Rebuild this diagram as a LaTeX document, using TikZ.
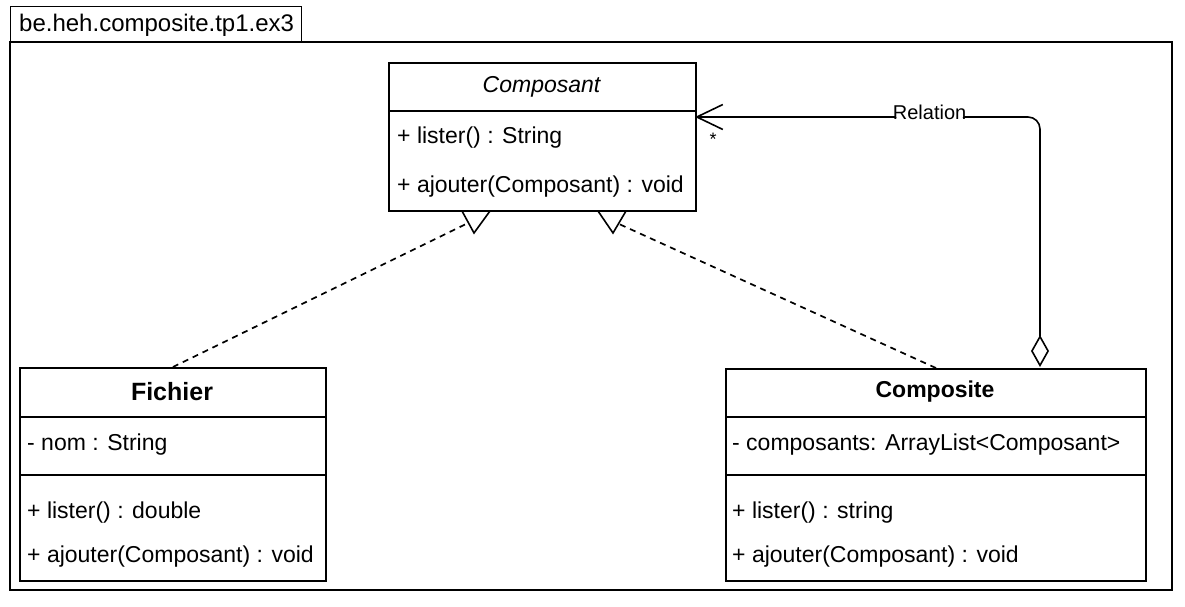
\documentclass[tikz,border=0pt]{standalone}
\usepackage{fontspec}
\setmainfont{Liberation Sans}
\usetikzlibrary{arrows.meta}
\begin{document}
\begin{tikzpicture}[x=1pt,y=-1pt,
  classbox/.style={draw, line width=1.8pt, anchor=north west, inner sep=0pt},
  sepline/.style={line width=1.6pt},
  member/.style={anchor=west, inner sep=0pt, font=\fontsize{23}{26}\selectfont},
  classname/.style={inner sep=0pt, font=\fontsize{23}{26}\selectfont\bfseries},
  realize/.style={line width=1.7pt, dash pattern=on 6pt off 5pt},
  hollowtri/.style={line width=1.6pt, line join=miter},
  assoc/.style={line width=1.6pt, rounded corners=12pt,
    {Diamond[open,length=32pt,width=18pt,line width=1.6pt]}-{Straight Barb[length=26pt,width=25pt,line width=1.6pt]}},
  frameline/.style={line width=1.3pt}
]
\useasboundingbox (0,0) rectangle (1185,607);

% package frame with its name tab
\draw[frameline] (10,42) rectangle (1172,590);
\node[draw, frameline, anchor=north west, minimum width=291pt, minimum height=36pt, inner sep=0pt] (pkg) at (10,6) {};
\node[anchor=west, inner sep=0pt, font=\fontsize{24}{27}\selectfont] (pkgname) at (19,25) {be.heh.composite.tp1.ex3};

% interface Composant
\node[classbox, minimum width=307pt, minimum height=148pt] (composant) at (388,62) {};
\draw[sepline] (388,111) -- (695,111);
\node[inner sep=0pt, font=\fontsize{23}{26}\selectfont\itshape] (composantname) at (541.5,87) {Composant};
\node[member] (composantm1) at (397,138) {+ lister() : String};
\node[member] (composantm2) at (397,187) {+ ajouter(Composant) : void};

% class Fichier
\node[classbox, minimum width=306pt, minimum height=213pt] (fichier) at (19,367) {};
\draw[sepline] (19,417) -- (325,417);
\draw[sepline] (19,475) -- (325,475);
\node[inner sep=0pt, font=\fontsize{25}{28}\selectfont\bfseries] (fichiername) at (172,392) {Fichier};
\node[member] (fichiera1) at (27,445) {- nom : String};
\node[member] (fichierm1) at (27,513) {+ lister() : double};
\node[member] (fichierm2) at (27,557) {+ ajouter(Composant) : void};

% class Composite
\node[classbox, minimum width=420pt, minimum height=212pt] (composite) at (725,368) {};
\draw[sepline] (725,417) -- (1145,417);
\draw[sepline] (725,475) -- (1145,475);
\node[classname] (compositename) at (935,392) {Composite};
\node[member] (compositea1) at (732,445) {- composants: ArrayList<Composant>};
\node[member] (compositem1) at (732,513) {+ lister() : string};
\node[member] (compositem2) at (732,557) {+ ajouter(Composant) : void};

% realization triangles under Composant
\coordinate (triLa) at (462,211);
\coordinate (triLb) at (490,211);
\coordinate (triLt) at (474,233);
\coordinate (triRa) at (598,211);
\coordinate (triRb) at (626,211);
\coordinate (triRt) at (613,233);
\draw[hollowtri] (triLa) -- (triLt) -- (triLb);
\draw[hollowtri] (triRa) -- (triRt) -- (triRb);
\coordinate (realL) at (466,224);
\coordinate (realR) at (619,224);
\draw[realize] (fichier.north) -- (realL);
\draw[realize] (composite.north) -- (realR);

% aggregation Composite -> Composant
\coordinate (aggS) at (1040,367);
\coordinate (aggE) at (695,117);
\draw[assoc] (aggS) |- node[pos=0.66, fill=white, inner sep=1pt, yshift=5pt, font=\fontsize{20}{22}\selectfont] (rellabel) {Relation} (aggE);
\node[font=\fontsize{18}{20}\selectfont, inner sep=0pt] (mult) at (713,139) {*};
\end{tikzpicture}
\end{document}
